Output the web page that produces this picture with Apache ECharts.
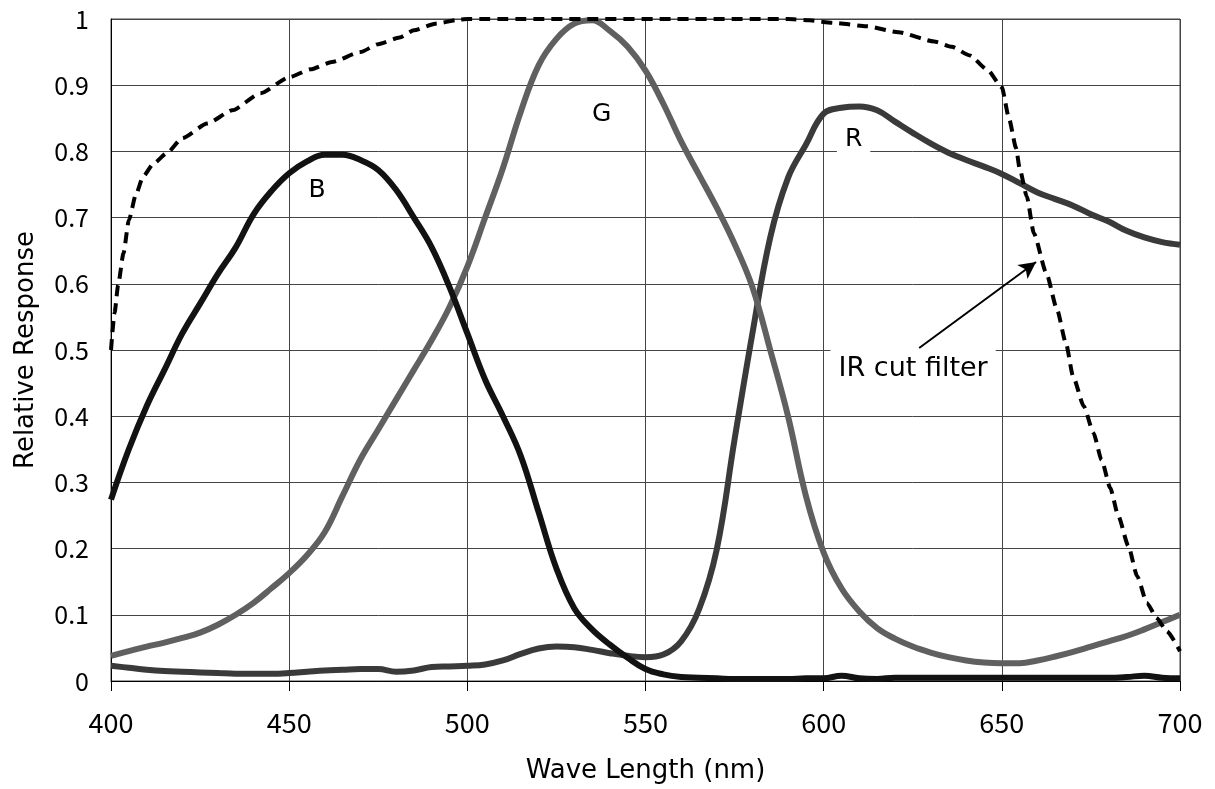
<!DOCTYPE html>
<html>
<head>
<meta charset="utf-8">
<script src="https://cdn.jsdelivr.net/npm/echarts@6/dist/echarts.min.js"></script>
<style>html,body{margin:0;padding:0;background:#fff;}#c{width:1215px;height:789px;}</style>
</head>
<body>
<div id="c"></div>
<script>
const wavelengths = [400,405,410,415,420,425,430,435,440,445,450,455,460,465,470,475,480,485,490,495,500,505,510,515,520,525,530,535,540,545,550,555,560,565,570,575,580,585,590,595,600,605,610,615,620,625,630,635,640,645,650,655,660,665,670,675,680,685,690,695,700];
const blueValues = [0.274,0.35,0.415,0.47,0.525,0.57,0.615,0.655,0.705,0.74,0.767,0.785,0.795,0.795,0.787,0.772,0.742,0.70,0.655,0.595,0.525,0.455,0.40,0.34,0.255,0.17,0.11,0.078,0.055,0.035,0.018,0.01,0.006,0.005,0.004,0.003,0.003,0.003,0.003,0.004,0.004,0.008,0.004,0.003,0.005,0.005,0.005,0.005,0.005,0.005,0.005,0.005,0.005,0.005,0.005,0.005,0.005,0.006,0.008,0.005,0.004];
const greenValues = [0.038,0.045,0.052,0.058,0.065,0.073,0.085,0.10,0.118,0.14,0.163,0.19,0.225,0.28,0.335,0.38,0.425,0.47,0.515,0.565,0.626,0.70,0.775,0.86,0.93,0.97,0.993,0.998,0.982,0.958,0.922,0.872,0.815,0.765,0.715,0.66,0.595,0.50,0.40,0.28,0.194,0.14,0.105,0.08,0.064,0.052,0.043,0.036,0.031,0.028,0.027,0.027,0.031,0.037,0.044,0.052,0.06,0.068,0.078,0.089,0.10];
const redValues = [0.023,0.02,0.017,0.015,0.014,0.013,0.012,0.011,0.011,0.011,0.012,0.014,0.016,0.017,0.018,0.018,0.014,0.016,0.021,0.022,0.023,0.025,0.031,0.041,0.049,0.052,0.051,0.047,0.042,0.038,0.036,0.040,0.06,0.108,0.199,0.365,0.525,0.67,0.76,0.81,0.857,0.866,0.868,0.862,0.845,0.828,0.812,0.798,0.787,0.777,0.766,0.752,0.738,0.728,0.718,0.705,0.694,0.68,0.67,0.663,0.659];
const irWavelengths = [400,401,402,403.5,405,407,409,412,415.6,420,427,434,442,450,456,462,470,475,481,485,491,498,500,590,596,603,612,621,631,636,641,646,650,652,654,655,657,659,662.5,665.5,668,670,673,675.7,678,680.4,682.7,685.5,688,690.7,693.5,696.3,700];
const irValues = [0.50,0.556,0.598,0.646,0.696,0.735,0.762,0.782,0.797,0.82,0.842,0.862,0.888,0.912,0.924,0.935,0.95,0.962,0.972,0.983,0.993,0.999,1.0,1.0,0.998,0.994,0.989,0.98,0.966,0.958,0.945,0.923,0.897,0.85,0.805,0.774,0.732,0.676,0.616,0.561,0.51,0.46,0.415,0.375,0.334,0.292,0.249,0.204,0.158,0.118,0.095,0.075,0.045];
const xTicks = {min: 400, max: 700, step: 50};
const yTicks = {min: 0, max: 1, step: 0.1};
const curveLabels = [
  {name: 'B', at: [457.8, 0.741]},
  {name: 'G', at: [537.7, 0.856]},
  {name: 'R', at: [608.4, 0.818]},
  {name: 'IR cut filter', at: [625.1, 0.472]}
];
const arrowFrom = [626.8, 0.503];
const arrowTo = [659.6, 0.633];

const pairs = (xs, ys) => xs.map((x, i) => [x, ys[i]]);
const textFont = 'DejaVu Sans';
const tickFont = 'Noto Sans CJK JP';

function labelPoint(l, bg, size) {
  return {
    coord: l.at, symbol: 'circle', symbolSize: 0,
    label: {show: true, position: 'inside', formatter: l.name, color: '#000',
      fontFamily: textFont, fontSize: size,
      backgroundColor: bg ? '#fff' : 'transparent', padding: bg ? [5, 8] : 0}
  };
}

const chart = echarts.init(document.getElementById('c'), null, {renderer: 'canvas'});
chart.setOption({
  animation: false,
  backgroundColor: '#fff',
  grid: {left: 111, right: 35, top: 19, bottom: 107, show: true, borderColor: '#444', borderWidth: 1},
  xAxis: {
    type: 'value', min: xTicks.min, max: xTicks.max, interval: xTicks.step,
    name: 'Wave Length (nm)', nameLocation: 'middle', nameGap: 77,
    nameTextStyle: {fontFamily: textFont, fontSize: 26, color: '#000'},
    axisLine: {show: true, lineStyle: {color: '#000', width: 1}},
    axisTick: {show: true, length: 10, lineStyle: {color: '#000'}},
    axisLabel: {fontFamily: tickFont, fontSize: 27, color: '#000', margin: 28},
    splitLine: {show: true, lineStyle: {color: '#444', width: 1}}
  },
  yAxis: {
    type: 'value', min: yTicks.min, max: yTicks.max, interval: yTicks.step,
    name: 'Relative Response', nameLocation: 'middle', nameGap: 72,
    nameTextStyle: {fontFamily: textFont, fontSize: 26, color: '#000'},
    axisLine: {show: true, lineStyle: {color: '#000', width: 1}},
    axisTick: {show: false},
    axisLabel: {fontFamily: tickFont, fontSize: 25, color: '#000', margin: 22},
    splitLine: {show: true, lineStyle: {color: '#444', width: 1}}
  },
  series: [
    {name: 'R', type: 'line', data: pairs(wavelengths, redValues), showSymbol: false, smooth: 0.4,
      lineStyle: {color: '#3a3a3a', width: 6}, z: 2,
      markPoint: {data: [labelPoint(curveLabels[2], true, 25)]}},
    {name: 'G', type: 'line', data: pairs(wavelengths, greenValues), showSymbol: false, smooth: 0.4,
      lineStyle: {color: '#606060', width: 6}, z: 3,
      markPoint: {data: [labelPoint(curveLabels[1], false, 25)]}},
    {name: 'B', type: 'line', data: pairs(wavelengths, blueValues), showSymbol: false, smooth: 0.4,
      lineStyle: {color: '#121212', width: 6}, z: 4,
      markPoint: {data: [labelPoint(curveLabels[0], false, 25)]}},
    {name: 'IR cut filter', type: 'line', data: pairs(irWavelengths, irValues), showSymbol: false, smooth: 0.2,
      smoothMonotone: 'x',
      lineStyle: {color: '#000', width: 4, type: [11, 7]}, z: 5,
      markPoint: {data: [labelPoint(curveLabels[3], true, 27)]},
      markLine: {silent: true, symbol: ['none', 'arrow'], symbolSize: [13, 17],
        lineStyle: {color: '#000', width: 2, type: 'solid'}, label: {show: false},
        data: [[{coord: arrowFrom}, {coord: arrowTo}]]}}
  ]
});
</script>
</body>
</html>
